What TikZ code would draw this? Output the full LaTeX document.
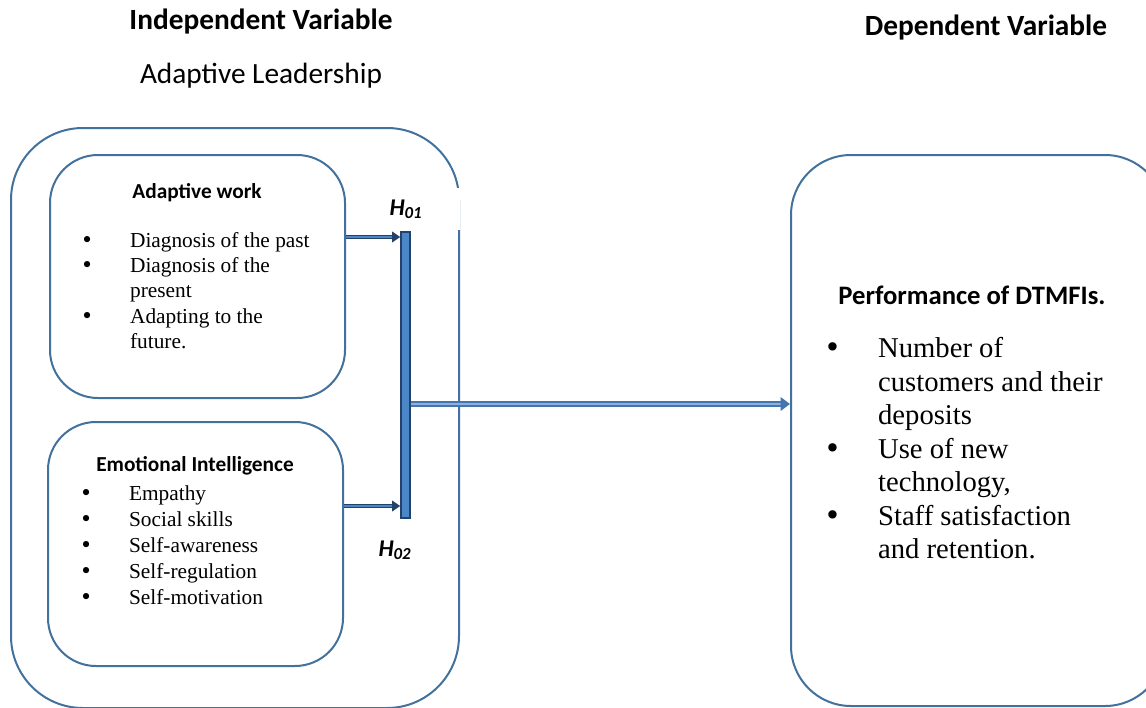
\documentclass[tikz,border=0pt]{standalone}
\usepackage{fontspec}
\setmainfont{Liberation Serif}
\setsansfont{Carlito}
\newfontfamily\bltfont{DejaVu Sans}
\usetikzlibrary{arrows.meta}
\definecolor{frame-blue}{HTML}{41719C}
\definecolor{bar-fill}{HTML}{4A86C8}
\definecolor{bar-edge}{HTML}{23426A}
\definecolor{main-arrow}{HTML}{4575B0}
\definecolor{main-inner}{HTML}{8FB0DA}
\newcommand\blt{{\bltfont •}}

\begin{document}
\begin{tikzpicture}[x=0.75pt, y=-0.75pt,
      every node/.style={font=\sffamily},
      heading/.style={font=\sffamily\bfseries\fontsize{22}{26}\selectfont},
      boxhead/.style={font=\sffamily\bfseries\fontsize{16}{19}\selectfont},
      listsmall/.style={font=\rmfamily\fontsize{16}{19}\selectfont, inner sep=0pt, anchor=north west},
      panel/.style={draw=frame-blue, line width=1.5pt, fill=none, rectangle},
      hyp/.style={font=\sffamily\bfseries\itshape\fontsize{18}{21}\selectfont},
      feed/.style={draw=bar-edge, line width=0.9pt, double=bar-fill, double distance=1.5pt,
                   -{Triangle[length=6pt, width=8pt]}}]
    \useasboundingbox (0,0) rectangle (1146,707);
    \clip (0,0) rectangle (1146,707);
    % headings
    \node[heading] (IVtitle) at (261,22) {Independent Variable};
    \node[font=\sffamily\fontsize{22}{26}\selectfont] (ALtitle) at (261,76) {Adaptive Leadership};
    \node[heading] (DVtitle) at (986,28) {Dependent Variable};
    % panels
    \node[panel, rounded corners=54pt, minimum width=336pt, minimum height=435pt] (IV) at (235,418) {};
    \node[panel, rounded corners=36pt, minimum width=221.25pt, minimum height=182.25pt] (AW) at (197.5,276.5) {};
    \node[panel, rounded corners=36pt, minimum width=221.25pt, minimum height=183pt] (EI) at (195.5,544) {};
    \node[panel, rounded corners=45pt, minimum width=280.5pt, minimum height=413.25pt] (DV) at (978,430.5) {};
    \node[hyp, fill=white, minimum width=81pt, minimum height=31pt] (H1) at (406,209) {H\textsubscript{01}};
    \node[hyp] (H2) at (395,550) {H\textsubscript{02}};
    % adaptive work
    \node[boxhead] (AWhead) at (197,193) {Adaptive work};
    \node[listsmall] (AWlist) at (80.5,229) {\begin{tabular}{@{}p{37pt}@{}l@{}}
        \blt & Diagnosis of the past\\
        \blt & Diagnosis of the\\
             & present\\
        \blt & Adapting to the\\
             & future.
      \end{tabular}};
    % emotional intelligence
    \node[boxhead] (EIhead) at (195,466) {Emotional Intelligence};
    \node[listsmall, font=\rmfamily\fontsize{16}{19.5}\selectfont] (EIlist) at (79.5,482) {\begin{tabular}{@{}p{37pt}@{}l@{}}
        \blt & Empathy\\
        \blt & Social skills\\
        \blt & Self-awareness\\
        \blt & Self-regulation\\
        \blt & Self-motivation
      \end{tabular}};
    % performance
    \node[font=\sffamily\bfseries\fontsize{20}{24}\selectfont] (DVhead) at (972,295) {Performance of DTMFIs.};
    \node[listsmall, font=\rmfamily\fontsize{21.5}{25.1}\selectfont] (DVlist) at (824.5,334) {\begin{tabular}{@{}p{40pt}@{}l@{}}
        \blt & Number of\\
             & customers and their\\
             & deposits\\
        \blt & Use of new\\
             & technology,\\
        \blt & Staff satisfaction\\
             & and retention.
      \end{tabular}};
    % collecting bar and arrows
    \node[draw=bar-edge, fill=bar-fill, line width=1.2pt, minimum width=6.75pt,
          minimum height=214.5pt, inner sep=0pt] (bar) at (405.5,375) {};
    \draw[feed] (AW.east |- 0,237) -- (bar.west |- 0,237);
    \draw[feed] (EI.east |- 0,506) -- (bar.west |- 0,506);
    \draw[draw=main-arrow, line width=1.5pt, double=main-inner, double distance=1.3pt,
          -{Triangle[length=7pt, width=10pt]}] (bar.east |- 0,404) -- (DV.west |- 0,404);
\end{tikzpicture}
\end{document}
